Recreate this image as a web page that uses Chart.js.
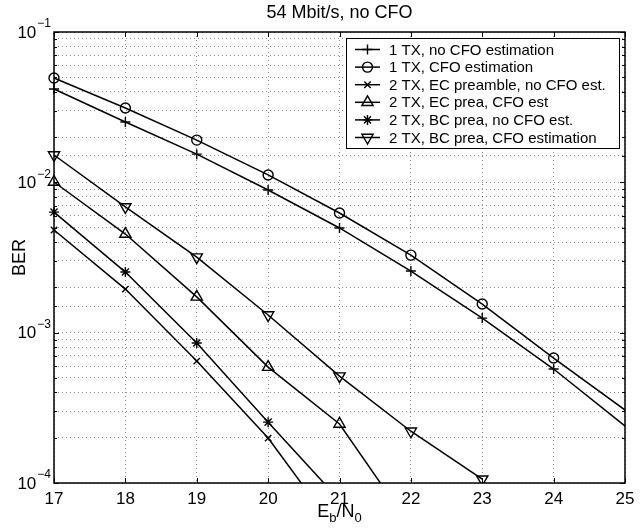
<!DOCTYPE html>
<html>
<head>
<meta charset="utf-8">
<script src="https://cdn.jsdelivr.net/npm/chart.js@4"></script>
<style>
  body { margin: 0; background: #fff; }
  canvas { display: block; }
</style>
</head>
<body>
<canvas id="ber" width="641" height="528"></canvas>
<script>
const FONT = "'Liberation Sans', Arial, Helvetica, sans-serif";

// Eb/N0 points (each series uses the first n of these)
const ebn0 = [17, 18, 19, 20, 21, 22, 23, 24, 26];

const seriesNames = [
  "1 TX, no CFO estimation",
  "1 TX, CFO estimation",
  "2 TX, EC preamble, no CFO est.",
  "2 TX, EC prea, CFO est",
  "2 TX, BC prea, no CFO est.",
  "2 TX, BC prea, CFO estimation",
];

const berOneTxNoCfo = [0.0418, 0.0252, 0.0154, 0.00889, 0.00497, 0.00257, 0.00125, 0.000573, 0.000100];
const berOneTxCfo   = [0.0494, 0.0312, 0.0191, 0.0112, 0.00625, 0.00328, 0.00155, 0.000678, 0.000138];
const berEcNoCfo    = [0.00482, 0.00195, 0.000647, 0.000199, 0.000045];
const berEcCfo      = [0.01005, 0.00453, 0.00173, 0.000590, 0.000247, 0.000051];
const berBcNoCfo    = [0.00634, 0.00253, 0.000853, 0.000254, 0.000077];
const berBcCfo      = [0.0152, 0.00686, 0.00318, 0.00131, 0.000514, 0.000221, 0.000106];

const markers = [
  { style: "cross", rot: 0, r: 5 },
  { style: "circle", rot: 0, r: 5 },
  { style: "crossRot", rot: 0, r: 4.5 },
  { style: "triangle", rot: 0, r: 6.5 },
  { style: "star", rot: 0, r: 5 },
  { style: "triangle", rot: 180, r: 6.5 },
];

const toPoints = (vals) => vals.map((v, i) => ({ x: ebn0[i], y: v }));

const allSeries = [berOneTxNoCfo, berOneTxCfo, berEcNoCfo, berEcCfo, berBcNoCfo, berBcCfo];

const datasets = allSeries.map((vals, i) => ({
  label: seriesNames[i],
  data: toPoints(vals),
  borderColor: "#000",
  borderWidth: 1.5,
  pointStyle: markers[i].style,
  pointRotation: markers[i].rot,
  pointRadius: markers[i].r,
  pointBorderColor: "#000",
  pointBackgroundColor: "rgba(0,0,0,0)",
  pointBorderWidth: 1.4,
  tension: 0,
  clip: { left: 10, top: 10, right: 0, bottom: 0 },
}));

const isDecade = (v) => Math.abs(Math.log10(v) - Math.round(Math.log10(v))) < 1e-9;

// box + inward ticks, MATLAB style
const framePlugin = {
  id: "frame",
  afterDatasetsDraw(chart) {
    const { ctx, chartArea: a, scales } = chart;
    ctx.save();
    ctx.strokeStyle = "#000";
    ctx.lineWidth = 1.5;
    ctx.strokeRect(a.left, a.top, a.right - a.left, a.bottom - a.top);
    ctx.lineWidth = 1;
    ctx.beginPath();
    scales.x.ticks.forEach((t) => {
      const px = Math.round(scales.x.getPixelForValue(t.value)) + 0.5;
      ctx.moveTo(px, a.bottom); ctx.lineTo(px, a.bottom - 5);
      ctx.moveTo(px, a.top); ctx.lineTo(px, a.top + 5);
    });
    scales.y.ticks.forEach((t) => {
      const py = Math.round(scales.y.getPixelForValue(t.value)) + 0.5;
      const len = isDecade(t.value) ? 5 : 3;
      ctx.moveTo(a.left, py); ctx.lineTo(a.left + len, py);
      ctx.moveTo(a.right, py); ctx.lineTo(a.right - len, py);
    });
    ctx.stroke();
    ctx.restore();
  },
  afterDraw(chart) {
    const { ctx, chartArea: a, scales } = chart;
    ctx.save();
    ctx.fillStyle = "#000";

    // y tick labels 10^n
    scales.y.ticks.forEach((t) => {
      if (!isDecade(t.value)) return;
      const e = Math.round(Math.log10(t.value));
      const py = scales.y.getPixelForValue(t.value);
      const exp = "\u2212" + Math.abs(e);
      ctx.font = "12px " + FONT;
      const ew = ctx.measureText(exp).width;
      const right = a.left - 3;
      ctx.textAlign = "left";
      ctx.textBaseline = "middle";
      ctx.fillText(exp, right - ew, py - 8);
      ctx.font = "17px " + FONT;
      ctx.textAlign = "right";
      ctx.fillText("10", right - ew - 1, py + 1);
    });

    // title
    ctx.font = "18px " + FONT;
    ctx.textAlign = "center";
    ctx.textBaseline = "alphabetic";
    ctx.fillText("54 Mbit/s, no CFO", (a.left + a.right) / 2, 18);

    // x axis title E_b/N_0
    const parts = [["E", 18, 0], ["b", 13, 5], ["/N", 18, 0], ["0", 13, 5]];
    let total = 0;
    parts.forEach((p) => { ctx.font = p[1] + "px " + FONT; total += ctx.measureText(p[0]).width; });
    let x = (a.left + a.right) / 2 - total / 2;
    ctx.textAlign = "left";
    parts.forEach((p) => {
      ctx.font = p[1] + "px " + FONT;
      ctx.fillText(p[0], x, 517 + p[2]);
      x += ctx.measureText(p[0]).width;
    });

    // y axis title
    ctx.save();
    ctx.translate(20, (a.top + a.bottom) / 2);
    ctx.rotate(-Math.PI / 2);
    ctx.font = "18px " + FONT;
    ctx.textAlign = "center";
    ctx.textBaseline = "middle";
    ctx.fillText("BER", 0, 0);
    ctx.restore();

    // legend box
    const lx = 346, ly = 38, lw = 273, lh = 110, row = 17.6;
    ctx.fillStyle = "#fff";
    ctx.fillRect(lx, ly, lw, lh);
    ctx.strokeStyle = "#000";
    ctx.lineWidth = 1;
    ctx.strokeRect(lx + 0.5, ly + 0.5, lw, lh);
    chart.data.datasets.forEach((ds, i) => {
      const y = ly + 11.5 + i * row;
      ctx.strokeStyle = "#000";
      ctx.lineWidth = 1.5;
      ctx.beginPath();
      ctx.moveTo(355, y); ctx.lineTo(380, y);
      ctx.stroke();
      ctx.fillStyle = "rgba(0,0,0,0)";
      ctx.lineWidth = 1.4;
      Chart.helpers.drawPoint(ctx, {
        pointStyle: ds.pointStyle, radius: ds.pointRadius,
        rotation: ds.pointRotation, borderWidth: 1.4,
      }, 367.5, y);
      ctx.fillStyle = "#000";
      ctx.font = "15px " + FONT;
      ctx.textAlign = "left";
      ctx.textBaseline = "middle";
      ctx.fillText(ds.label, 389, y + 1);
    });
    ctx.restore();
  },
};

new Chart(document.getElementById("ber"), {
  type: "line",
  data: { datasets: datasets },
  options: {
    responsive: false,
    animation: false,
    layout: { padding: { top: 32, right: 16, left: 0, bottom: 0 } },
    plugins: { legend: { display: false }, tooltip: { enabled: false } },
    scales: {
      x: {
        type: "linear",
        min: 17,
        max: 25,
        ticks: {
          stepSize: 1,
          color: "#000",
          font: { family: FONT, size: 17 },
          padding: 6,
          maxRotation: 0,
        },
        grid: { color: "rgba(0,0,0,0.45)", lineWidth: 1, drawTicks: false },
        border: { display: false, dash: [1, 3] },
        afterFit: (s) => { s.height = 45; },
      },
      y: {
        type: "logarithmic",
        min: 1e-4,
        max: 1e-1,
        ticks: { display: false, autoSkip: false },
        grid: { color: "rgba(0,0,0,0.45)", lineWidth: 1, drawTicks: false },
        border: { display: false, dash: [1, 3] },
        afterFit: (s) => { s.width = 54; },
      },
    },
  },
  plugins: [framePlugin],
});
</script>
</body>
</html>
